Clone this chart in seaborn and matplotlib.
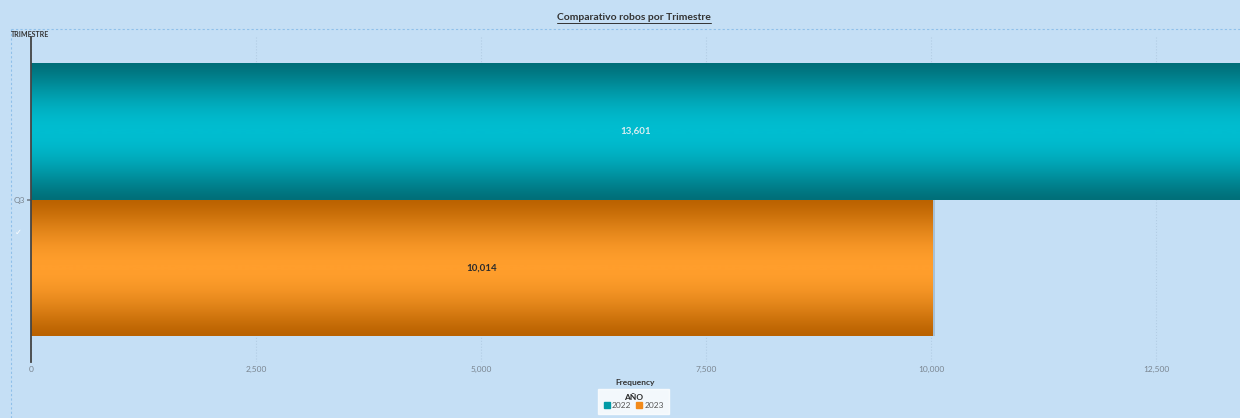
import matplotlib
matplotlib.use("Agg")
import matplotlib.pyplot as plt
import matplotlib.patches as mpatches
from matplotlib.lines import Line2D
import seaborn as sns
import numpy as np
import pandas as pd

# data
trimestres = ["Q3", "Q3"]
anios = ["2022", "2023"]
robos = [13601, 10014]
ticks = [0, 2500, 5000, 7500, 10000, 12500]

bg = "#C5DFF5"
dark_cols = {"2022": "#006F79", "2023": "#BA6200"}
light_cols = {"2022": "#00BDD0", "2023": "#FF9E2C"}
legend_cols = {"2022": "#009AA6", "2023": "#F28A1A"}

sns.set_theme(style="white")
plt.rcParams["font.family"] = ["Lato", "DejaVu Sans"]

df = pd.DataFrame({"TRIMESTRE": trimestres, "AÑO": anios, "Frequency": robos})

fig = plt.figure(figsize=(12.4, 4.18), dpi=100, facecolor=bg)
ax = fig.add_axes([0.025, 0.134, 0.975, 0.777])
ax.set_facecolor(bg)

sns.barplot(data=df, x="Frequency", y="TRIMESTRE", hue="AÑO", orient="h",
            palette=legend_cols, width=0.84, ax=ax, legend=False, linewidth=0)

ax.set_xlim(0, 13433)
ax.set_ylim(0.5, -0.5)

# gradient fill clipped to each bar (dark edges, bright middle)
t = np.linspace(0, 1, 256).reshape(-1, 1)
prof = np.sin(np.pi * t) ** 1.3
for patch, yr in zip(ax.patches, anios):
    x0, y0 = patch.get_x(), patch.get_y()
    w, h = patch.get_width(), patch.get_height()
    cmap = matplotlib.colors.LinearSegmentedColormap.from_list(
        "g", [dark_cols[yr], light_cols[yr]])
    img = ax.imshow(prof, aspect="auto", cmap=cmap, vmin=0, vmax=1,
                    extent=[x0, x0 + w, y0 + h, y0], zorder=2, interpolation="bilinear")
    img.set_clip_path(patch)
    ax.add_patch(mpatches.Rectangle((x0 + w, y0), 35, h, color="#8aa4b8", alpha=0.5,
                                    zorder=1.5, lw=0))
ax.set_xlim(0, 13433)
ax.set_ylim(0.5, -0.5)

# value labels
vis_end = min(robos[0], 13433)
ax.text(vis_end / 2, -0.21, f"{robos[0]:,}", ha="center", va="center",
        color="#d9eef2", fontsize=7, fontweight="bold", zorder=4)
ax.text(robos[1] / 2, 0.21, f"{robos[1]:,}", ha="center", va="center",
        color="#2b2b2b", fontsize=7, fontweight="bold", zorder=4)

# axes styling
for s in ["top", "right", "bottom"]:
    ax.spines[s].set_visible(False)
ax.spines["left"].set_color("#444444")
ax.spines["left"].set_linewidth(1.3)
ax.spines["left"].set_zorder(5)
ax.set_xticks(ticks)
ax.set_xticklabels([f"{v:,}" for v in ticks])
ax.tick_params(axis="x", length=0, labelsize=6, labelcolor="#7a8590", pad=3)
ax.tick_params(axis="y", length=3, color="#7a8590", labelsize=6, labelcolor="#7a8590",
               pad=1, left=True)
ax.grid(axis="x", color="#b3cde4", linestyle=":", linewidth=0.8, zorder=0)
ax.set_axisbelow(True)
ax.set_xlabel("Frequency", fontsize=6, fontweight="bold", color="#333333", labelpad=4)
ax.set_ylabel("")

# title, dashed frame, y title
fig.text(0.511, 0.958, "Comparativo robos por Trimestre", ha="center", va="center",
         fontsize=7.5, fontweight="bold", color="#333333")
fig.add_artist(Line2D([0.449, 0.573], [0.944, 0.944], color="#333333", lw=0.7))
fig.add_artist(Line2D([0.009, 1.0], [0.93, 0.93], color="#8fc0ea", lw=0.8, ls=(0, (2, 2))))
fig.add_artist(Line2D([0.009, 0.009], [0.93, 0.0], color="#8fc0ea", lw=0.8, ls=(0, (2, 2))))
fig.text(0.009, 0.918, "TRIMESTRE", ha="left", va="center", fontsize=5,
         fontweight="bold", color="#333333")
fig.text(0.015, 0.445, "\u2713", ha="center", va="center", fontsize=6, color="white",
         family=["DejaVu Sans"])

# legend
handles = [Line2D([], [], marker="s", ls="", markersize=4, color=legend_cols[a], label=a)
           for a in anios]
leg = fig.legend(handles=handles, loc="lower center", bbox_to_anchor=(0.511, 0.0), ncol=2,
                 title="AÑO", fontsize=6, title_fontsize=6, frameon=True,
                 handletextpad=0.2, columnspacing=0.6, borderpad=0.6, labelspacing=0.1,
                 handlelength=0.8, fancybox=False)
leg.get_title().set_fontweight("bold")
leg.get_frame().set_facecolor("white")
leg.get_frame().set_edgecolor("white")
for txt in leg.get_texts():
    txt.set_color("#555555")

fig.savefig("out.png", dpi=100, facecolor=bg)
